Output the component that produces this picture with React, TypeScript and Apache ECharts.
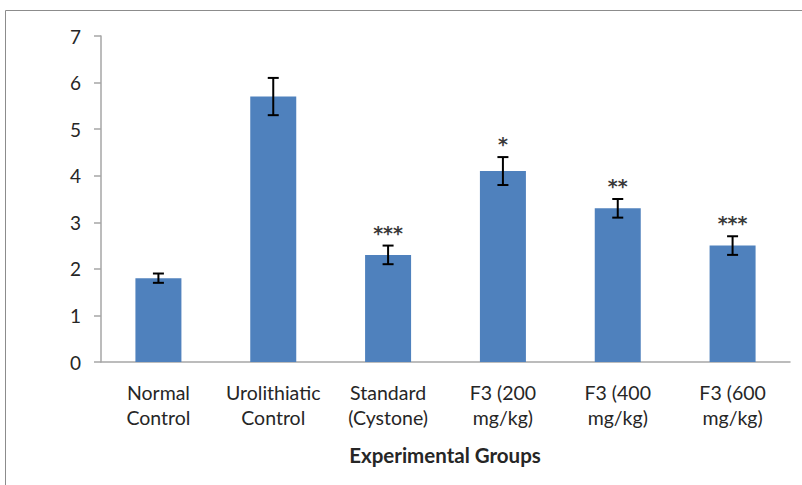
import React, { useEffect, useRef } from "react";
import * as echarts from "echarts";

const categories = [
  "Normal\nControl",
  "Urolithiatic\nControl",
  "Standard\n(Cystone)",
  "F3 (200\nmg/kg)",
  "F3 (400\nmg/kg)",
  "F3 (600\nmg/kg)",
];
const values = [1.8, 5.7, 2.3, 4.1, 3.3, 2.5];
const errors = [0.1, 0.4, 0.2, 0.3, 0.2, 0.2];
const significance = ["", "", "***", "*", "**", "***"];
const yTicks = { min: 0, max: 7, interval: 1 };
const xTitle = "Experimental Groups";

const FONT = "Lato, 'Open Sans', sans-serif";
const TEXT = "#262626";

export default function App() {
  const ref = useRef<HTMLDivElement>(null);
  useEffect(() => {
    document.body.style.margin = "0";
    if (!ref.current) return;
    const chart = echarts.init(ref.current, null, { renderer: "svg" });
    const errData = values.map((v, i) => [i, v, errors[i]]);
    chart.setOption({
      animation: false,
      backgroundColor: "#ffffff",
      grid: { left: 101, right: 12, top: 36, bottom: 123, containLabel: false },
      xAxis: {
        type: "category",
        data: categories,
        axisLine: { show: true, lineStyle: { color: "#a6a6a6", width: 1.5 } },
        axisTick: { show: false },
        axisLabel: {
          color: TEXT,
          fontFamily: FONT,
          fontSize: 19.5,
          lineHeight: 25,
          margin: 18,
          interval: 0,
        },
      },
      yAxis: {
        type: "value",
        min: yTicks.min,
        max: yTicks.max,
        interval: yTicks.interval,
        axisLine: { show: true, lineStyle: { color: "#a6a6a6", width: 1.5 } },
        axisTick: { show: true, length: 7, lineStyle: { color: "#a6a6a6", width: 1.5 } },
        splitLine: { show: false },
        axisLabel: { color: TEXT, fontFamily: FONT, fontSize: 19, margin: 20 },
      },
      graphic: [
        {
          type: "rect",
          shape: { x: 5.5, y: 10.5, width: 1200, height: 1000 },
          style: { fill: "none", stroke: "#8c8c8c", lineWidth: 1 },
          silent: true,
        },
        {
          type: "text",
          x: 445,
          y: 455,
          style: {
            text: xTitle,
            fill: TEXT,
            font: `bold 20.5px ${FONT}`,
            textAlign: "center",
            textVerticalAlign: "middle",
          },
        },
      ],
      series: [
        {
          type: "bar",
          data: values,
          barWidth: 46,
          itemStyle: { color: "#4f81bd" },
        },
        {
          type: "custom",
          data: errData,
          z: 10,
          renderItem: (params: any, api: any) => {
            const i = api.value(0);
            const v = api.value(1);
            const e = api.value(2);
            const sig = significance[i];
            const top = api.coord([i, v + e]);
            const bot = api.coord([i, v - e]);
            const x = top[0];
            const cap = 5.5;
            const st = { stroke: "#000000", lineWidth: 2 };
            const children: any[] = [
              { type: "line", shape: { x1: x, y1: top[1], x2: x, y2: bot[1] }, style: st },
              { type: "line", shape: { x1: x - cap, y1: top[1], x2: x + cap, y2: top[1] }, style: st },
              { type: "line", shape: { x1: x - cap, y1: bot[1], x2: x + cap, y2: bot[1] }, style: st },
            ];
            if (sig) {
              children.push({
                type: "text",
                x: x,
                y: top[1] - 13,
                style: {
                  text: sig,
                  fill: "#3a3a3a",
                  font: `bold 19px 'DejaVu Sans', sans-serif`,
                  textAlign: "center",
                  textVerticalAlign: "middle",
                },
              });
            }
            return { type: "group", children };
          },
        },
      ],
    });
    return () => chart.dispose();
  }, []);
  return <div ref={ref} style={{ width: 802, height: 485 }} />;
}
